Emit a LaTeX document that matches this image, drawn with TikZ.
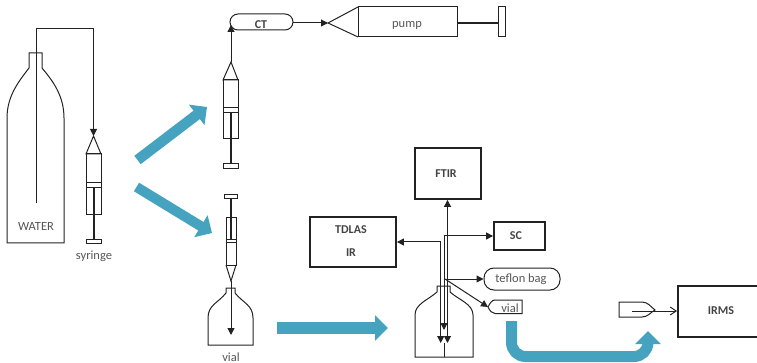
\documentclass[tikz,border=0pt]{standalone}
\usepackage{fontspec}
\setmainfont{Carlito}
\usepackage{xcolor}
\usetikzlibrary{arrows.meta,positioning,calc}
\definecolor{ink}{HTML}{222222}
\definecolor{label}{HTML}{555555}
\definecolor{flow}{HTML}{45A3BF}
\tikzset{
  line/.style={draw=ink,line width=1pt},
  rodline/.style={draw=ink,line width=1.7pt},
  feed/.style={line,-{Triangle[length=7pt,width=7pt]}},
  box/.style={draw=ink,line width=1.8pt,inner sep=0pt},
  tag/.style={font=\fontsize{12.5}{14}\selectfont,text=label,inner sep=0pt},
  boxtext/.style={font=\bfseries\fontsize{12}{14}\selectfont,text=ink!85,inner sep=0pt},
  flowarrow/.style={draw=flow,line width=#1,-{Triangle[length=13pt,width=25pt]}},
}
\begin{document}
\begin{tikzpicture}[x=1pt,y=-1pt]
\useasboundingbox (0,0) rectangle (757,363);
% big arrows
\draw[flowarrow=10.5pt] (137.5,160) -- (207,107);
\draw[flowarrow=10pt] (136.5,187) -- (212,233);
\draw[flowarrow=11.5pt] (277,328) -- (388,328);
\draw[flowarrow=11pt,rounded corners=14pt] (511.5,321) -- (511.5,356.5) -- (648,356.5) -- (648,331);
% bottle
\draw[line] (7,243) -- (7,118) .. controls (7,95) and (20,80) .. (29,68) -- (29,53) -- (42,53) -- (42,68) .. controls (52,80) and (64,95) .. (64,118) -- (64,243) -- cycle;
\node[tag] (water) at (36,226) {WATER};
\coordinate (watertube) at (36,203);
\coordinate (syrtip) at (93.5,136);
\draw[feed] (watertube) |- (93.5,29) -- (syrtip);
% syringe at the bottle
\draw[line] (86,154) -- (93.5,136) -- (101,154) -- cycle;
\draw[line] (86,154) rectangle (101,215);
\draw[line] (86,183) rectangle (101,188);
\draw[rodline] (94,188) -- (94,240);
\draw[line] (86,240) rectangle (101,243.5);
\node[tag] (syringe) at (94,256) {syringe};
% syringe to CT
\draw[line] (223,80) -- (231,62) -- (238,80) -- cycle;
\draw[line] (223,80) rectangle (238,139);
\draw[line] (223,108) rectangle (238,113);
\draw[rodline] (231,113) -- (231,164);
\draw[line] (223,164) rectangle (238,169);
\draw[line,rounded corners=8pt] (230,30) -- (293,30) -- (293,14) -- (230,14) -- cycle;
\node[boxtext] (ct) at (261,25) {CT};
\coordinate (cttip) at (231,25);
\draw[feed] (231,62) -- (cttip);
% pump
\coordinate (ctout) at (293,23);
\coordinate (pumptip) at (328,23);
\draw[feed] (ctout) -- (pumptip);
\draw[line] (358,7) -- (328,23) -- (358,37);
\draw[line] (358,7) rectangle (457,37);
\node[tag] (pump) at (407,25) {pump};
\draw[rodline] (457,23) -- (498,23);
\draw[line] (498,7) rectangle (505,37);
% syringe over the vial
\draw[line] (224,195) rectangle (237,199);
\draw[rodline] (231,199) -- (231,240);
\draw[line] (226,218) rectangle (236,265);
\draw[line] (226,240) rectangle (236,243);
\draw[line] (226,265) -- (231,281) -- (236,265);
% vial
\draw[line] (208,345) -- (208,318) .. controls (208,305) and (218,303) .. (226,293) -- (226,288) -- (235,288) -- (235,293) .. controls (243,303) and (253,305) .. (253,318) -- (253,345) -- cycle;
\coordinate (vialtip) at (231,335);
\draw[feed] (231,281) -- (vialtip);
\node[tag] (vial1) at (231,357) {vial};
% analysers
\node[box,minimum width=66pt,minimum height=51pt] (ftir) at (448,173.5) {};
\node[boxtext] at (446,174) {FTIR};
\node[box,minimum width=86pt,minimum height=50pt] (tdlas) at (353,242) {};
\node[boxtext] at (351,230) {TDLAS};
\node[boxtext] at (351,253) {IR};
\node[box,minimum width=51pt,minimum height=28pt] (sc) at (519.5,236) {};
\node[boxtext] at (516,236) {SC};
\node[draw=ink,line width=1pt,rounded corners=10pt,minimum width=76pt,minimum height=22pt,inner sep=0pt] (bag) at (522,279) {};
\node[tag] at (521,279) {teflon bag};
\draw[line] (488,307) .. controls (490,303) and (492,300) .. (495,300) -- (522,300) -- (522,313.5) -- (495,313.5) .. controls (492,313.5) and (490,311) .. (488,307);
\node[tag] (vial2) at (510,308) {vial};
% flask
\draw[line] (415,357) -- (415,315) .. controls (415,304) and (428,300) .. (437,292) -- (437,286) -- (450,286) -- (450,292) .. controls (459,300) and (473,304) .. (473,315) -- (473,357) -- cycle;
\coordinate (a1) at (440.7,343);
\coordinate (a2) at (444,330);
\coordinate (a3) at (447.5,343);
\draw[feed] (440.7,242) -- (tdlas.east |- 0,242);
\draw[feed] (440.7,242) -- (a1);
\draw[feed] (444,236) -- (a2);
\draw[feed] (444,236) -- (sc.west);
\draw[feed,{Triangle[length=7pt,width=7pt]}-{Triangle[length=7pt,width=7pt]}] (a3) -- (ftir.south -| a3);
\draw[line] (444,343) -- (444,357);
\draw[feed] (445,279) -- (bag.west);
\draw[feed] (445,279) -- (488,307);
% injector
\draw[line] (619,302) -- (619,317) -- (642,317) .. controls (648,317) and (651,312) .. (655,310) .. controls (651,307) and (648,302) .. (642,302) -- cycle;
\node[box,minimum width=90pt,minimum height=51pt] (irms) at (723,311.5) {};
\node[boxtext] at (721,311) {IRMS};
\coordinate (needle) at (632,311);
\draw[line,-{Straight Barb[length=6pt,width=8pt]}] (needle) -- (irms.west |- needle);
\end{tikzpicture}
\end{document}
